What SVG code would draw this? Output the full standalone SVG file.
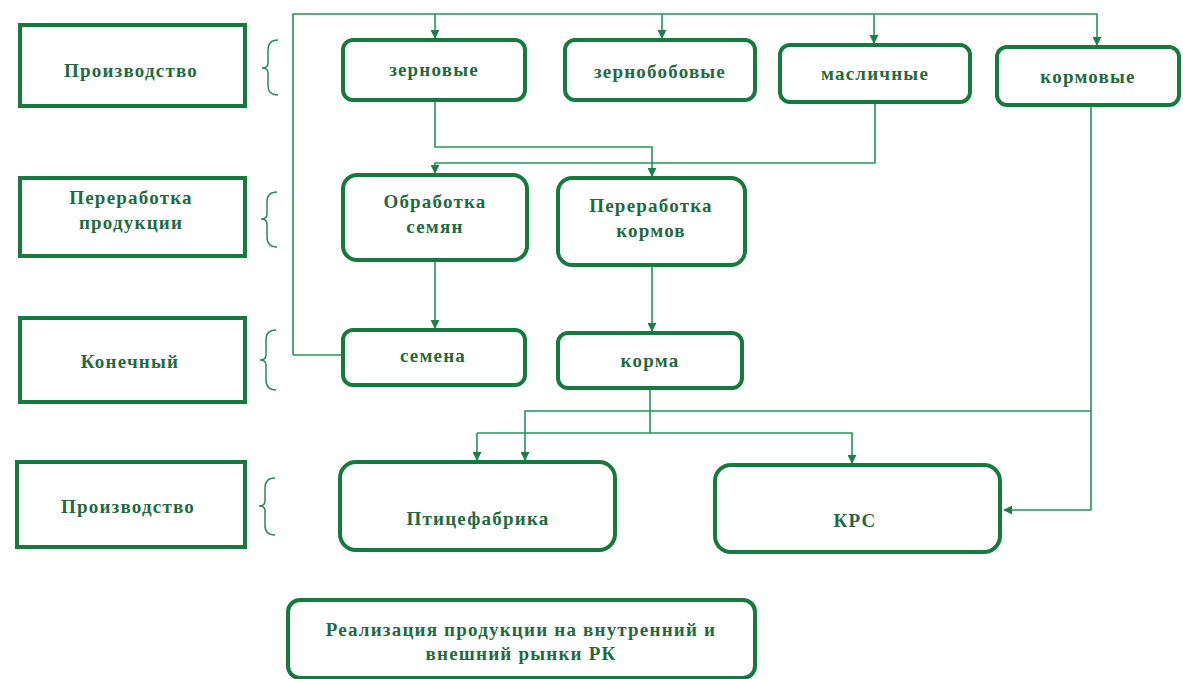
<svg xmlns="http://www.w3.org/2000/svg" width="1183" height="679" viewBox="0 0 1183 679" font-family="'Liberation Serif', 'DejaVu Serif', serif">
<style>
.lbl{fill:#fff;stroke:#167a3e;stroke-width:4}
.node{fill:#fff;stroke:#167a3e;stroke-width:4}
.br{fill:none;stroke:#2a8a55;stroke-width:1.5}
.c{fill:none;stroke:#23955a;stroke-width:1.6}
text{font-family:'Liberation Serif','DejaVu Serif',serif;font-weight:bold;font-size:19px;letter-spacing:1.2px;fill:#1f6a3e;text-anchor:middle}
</style>
<defs>
<marker id="a" viewBox="0 0 10 10" refX="9" refY="5" markerWidth="9" markerHeight="9" markerUnits="userSpaceOnUse" orient="auto">
<path d="M0,0 L10,5 L0,10 z" fill="#1f7f48"/>
</marker>
</defs>
<rect width="1183" height="679" fill="#fff"/>

<g id="conn">
<path class="c" d="M293,355 V14 H1097 V45" marker-end="url(#a)"/>
<path class="c" d="M435,14 V38" marker-end="url(#a)"/>
<path class="c" d="M662,14 V38" marker-end="url(#a)"/>
<path class="c" d="M874,14 V43" marker-end="url(#a)"/>
<path class="c" d="M343,355 H293"/>
<path class="c" d="M435,101 V147 H652 V176" marker-end="url(#a)"/>
<path class="c" d="M875,103 V163 H435 V173" marker-end="url(#a)"/>
<path class="c" d="M435,261 V328" marker-end="url(#a)"/>
<path class="c" d="M652,266 V331" marker-end="url(#a)"/>
<path class="c" d="M650,389 V433"/>
<path class="c" d="M1091,106 V510 H1004" marker-end="url(#a)"/>
<path class="c" d="M1091,411 H525 V460" marker-end="url(#a)"/>
<path class="c" d="M477,433 H852 V463" marker-end="url(#a)"/>
<path class="c" d="M477,433 V460" marker-end="url(#a)"/>
</g>

<g id="l1"><rect class="lbl" x="20" y="25" width="225" height="81"/><text x="131" y="77">Производство</text></g>
<path class="br" d="M278,40 Q268,40 268,50 V63 Q268,68 262,68 Q268,68 268,73 V86 Q268,95 278,95"/>
<g id="l2"><rect class="lbl" x="20" y="178" width="225" height="78"/><text x="131" y="204">Переработка</text><text x="131" y="229">продукции</text></g>
<path class="br" d="M277,192 Q267,192 267,202 V214 Q267,219 261,219 Q267,219 267,224 V237 Q267,247 277,247"/>
<g id="l3"><rect class="lbl" x="20" y="318" width="225" height="84"/><text x="130" y="368">Конечный</text></g>
<path class="br" d="M276,330 Q266,330 266,340 V355 Q266,360 260,360 Q266,360 266,365 V380 Q266,390 276,390"/>
<g id="l4"><rect class="lbl" x="17" y="462" width="228" height="85"/><text x="128" y="513">Производство</text></g>
<path class="br" d="M275,478 Q265,478 265,488 V501 Q265,506 259,506 Q265,506 265,511 V525 Q265,535 275,535"/>

<g id="n1"><rect class="node" x="343" y="40" width="182" height="60" rx="10"/><text x="434" y="76">зерновые</text></g>
<g id="n2"><rect class="node" x="565" y="40" width="190" height="60" rx="10"/><text x="660" y="78">зернобобовые</text></g>
<g id="n3"><rect class="node" x="780" y="45" width="190" height="57" rx="10"/><text x="875" y="80">масличные</text></g>
<g id="n4"><rect class="node" x="997" y="47" width="182" height="58" rx="10"/><text x="1088" y="83">кормовые</text></g>

<g id="n5"><rect class="node" x="343" y="175" width="184" height="85" rx="14"/><text x="435" y="208">Обработка</text><text x="435" y="233">семян</text></g>
<g id="n6"><rect class="node" x="558" y="178" width="187" height="87" rx="14"/><text x="651" y="212">Переработка</text><text x="651" y="237">кормов</text></g>

<g id="n7"><rect class="node" x="343" y="330" width="182" height="55" rx="10"/><text x="433" y="362">семена</text></g>
<g id="n8"><rect class="node" x="558" y="333" width="184" height="55" rx="10"/><text x="650" y="367">корма</text></g>

<g id="n9"><rect class="node" x="340" y="462" width="275" height="88" rx="16"/><text x="478" y="525">Птицефабрика</text></g>
<g id="n10"><rect class="node" x="715" y="465" width="285" height="87" rx="16"/><text x="855" y="527">КРС</text></g>

<g id="n11"><rect class="node" x="288" y="600" width="467" height="78" rx="12"/><text x="521" y="636">Реализация продукции на внутренний и</text><text x="521" y="660">внешний рынки РК</text></g>
</svg>
